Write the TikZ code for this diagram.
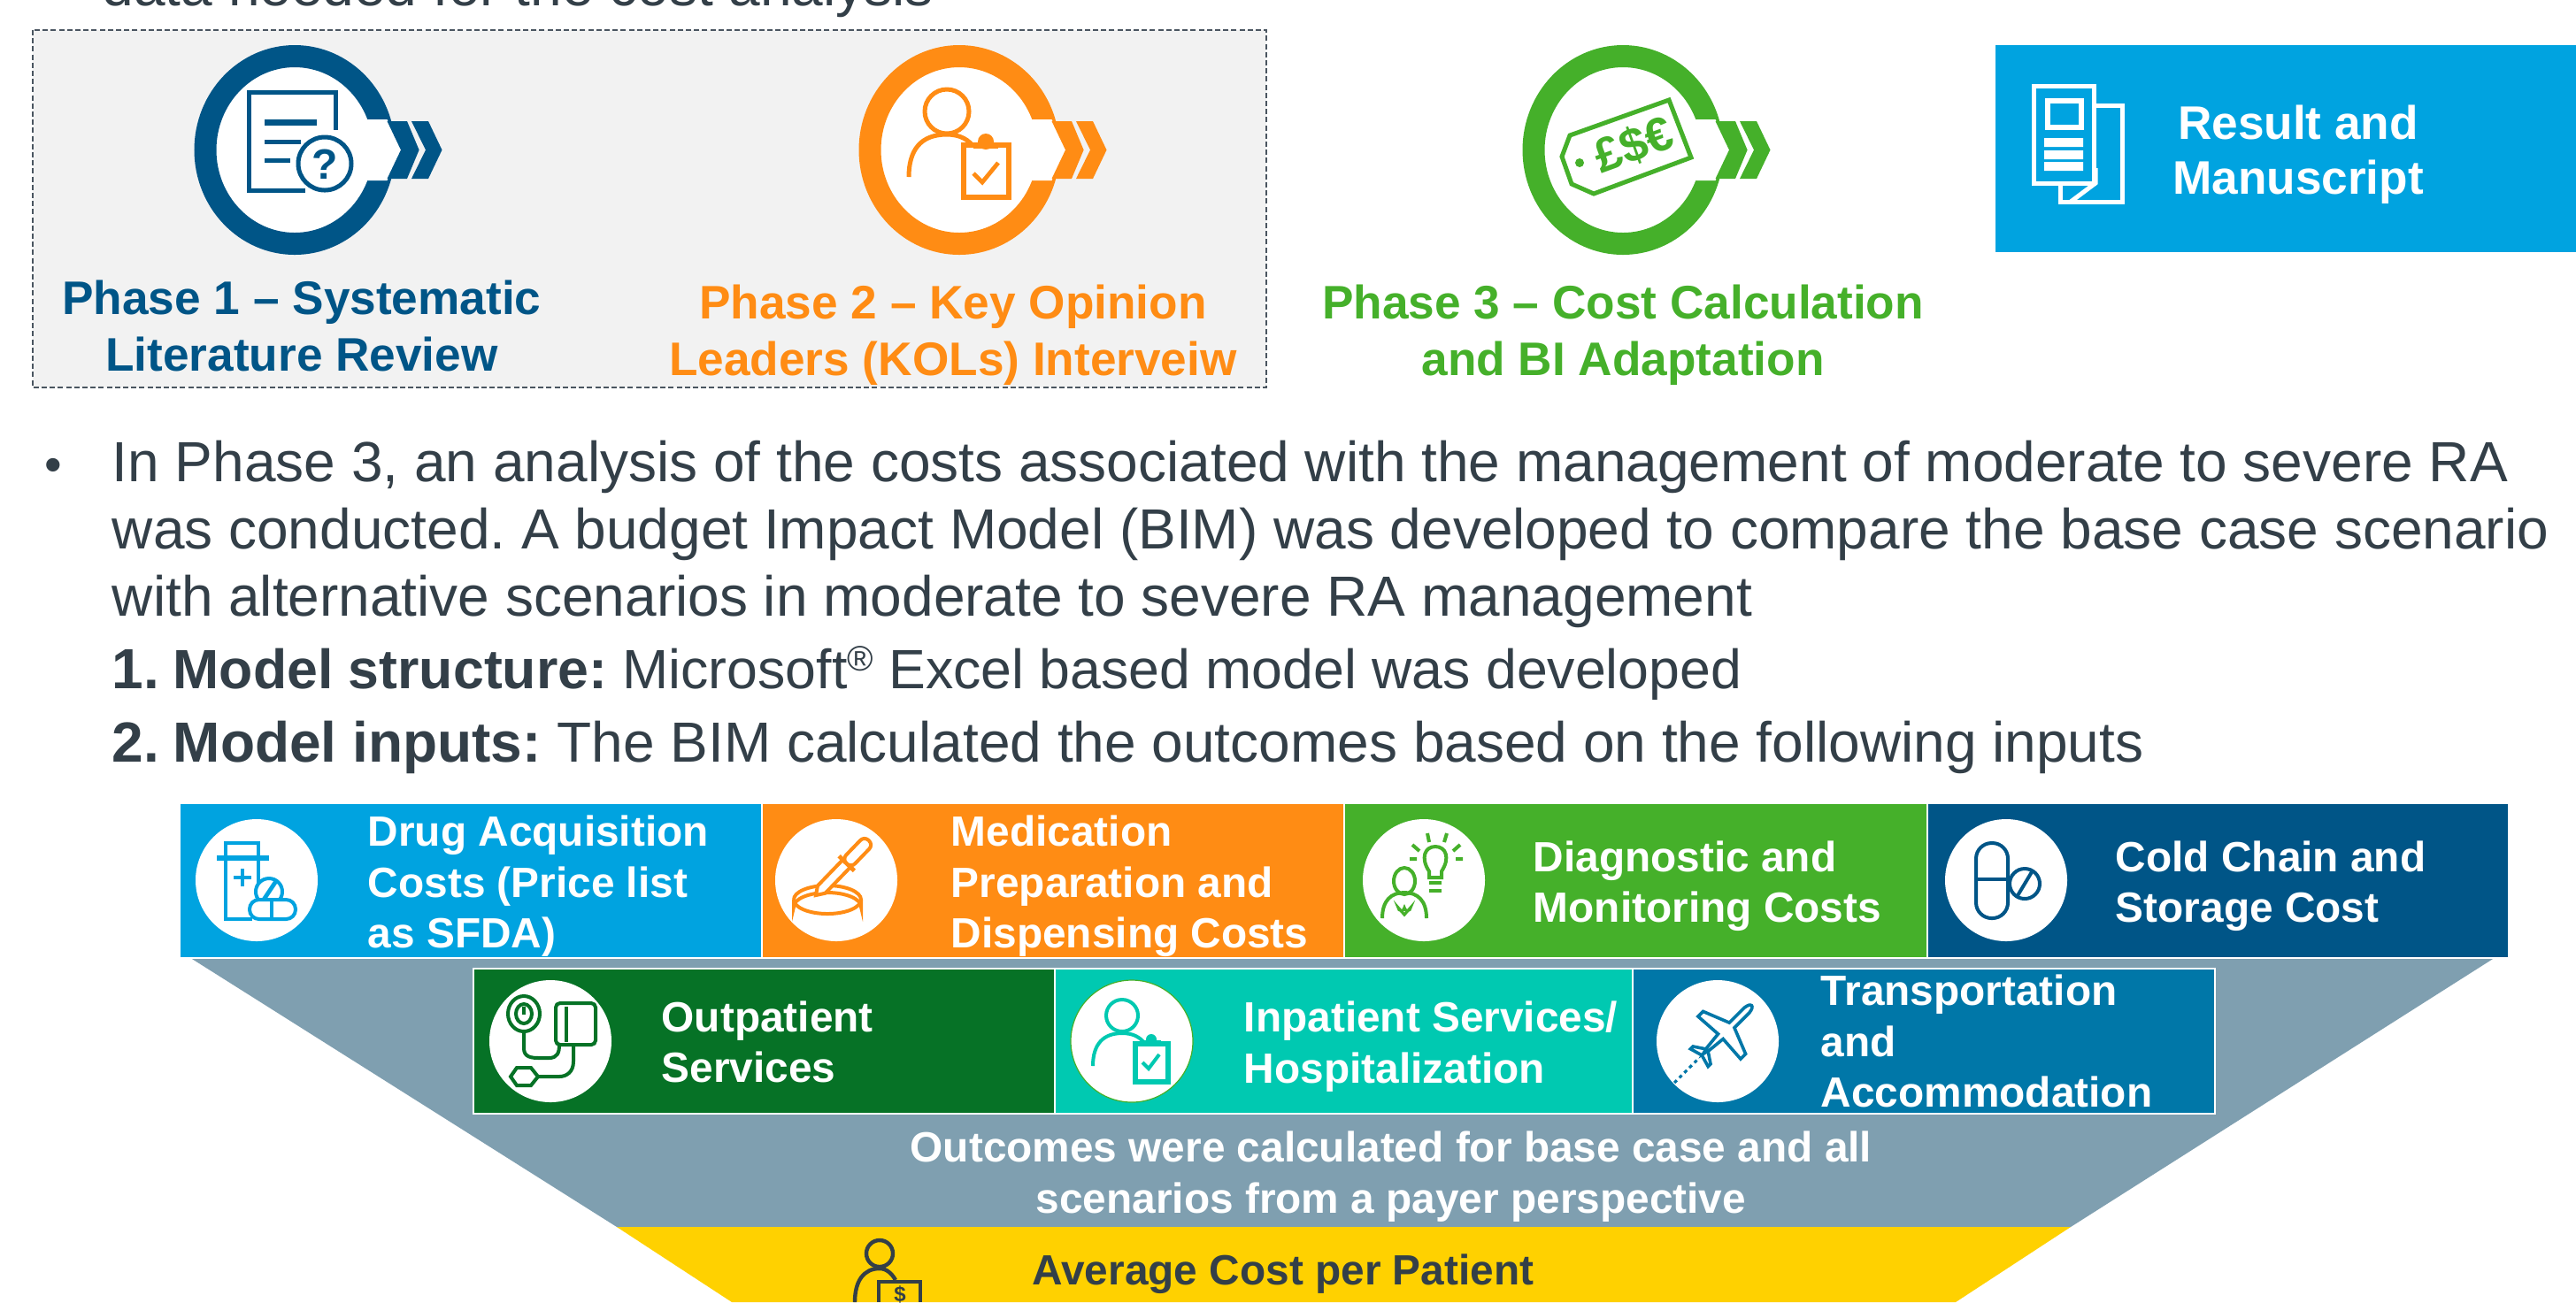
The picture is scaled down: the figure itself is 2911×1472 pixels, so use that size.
\documentclass[tikz,border=0pt]{standalone}
\usepackage{fontspec}
\setmainfont{Liberation Sans}
\frenchspacing
\definecolor{ltblue}{HTML}{00A3E0}
\definecolor{navy}{HTML}{005587}
\definecolor{orng}{HTML}{FF8C14}
\definecolor{grn}{HTML}{45B02A}
\definecolor{dkgrn}{HTML}{067226}
\definecolor{teal2}{HTML}{00C9B1}
\definecolor{midblue}{HTML}{0077A8}
\definecolor{slate}{HTML}{7F9FB0}
\definecolor{yel}{HTML}{FFD100}
\definecolor{body}{HTML}{333F48}
\definecolor{panel}{HTML}{F2F2F2}
\definecolor{dash}{HTML}{4A5560}
\tikzset{
  phasetext/.style={font=\fontsize{13.3pt}{16pt}\selectfont\bfseries,align=center,inner sep=0pt},
  costtext/.style={font=\fontsize{11.95pt}{14.35pt}\selectfont\bfseries,text=white,align=left,anchor=west,inner sep=0pt},
  centertext/.style={font=\fontsize{11.95pt}{14.35pt}\selectfont\bfseries,align=center,inner sep=0pt},
  bodyline/.style={font=\fontsize{16pt}{19pt}\selectfont,text=body,anchor=base west,inner sep=0pt},
  ico/.style={line width=1pt,line join=miter,line cap=butt},
}
\newcommand{\phasering}[2]{%
  \begin{scope}[shift={(#1,169.5)}]
    \draw[fill=white,draw=#2,line width=6.25pt] (0,0) ellipse (101 and 106);
    \fill[white] (60,-34.5)--(104.5,-34.5)--(120,0)--(104.5,34.5)--(60,34.5)--cycle;
    \fill[#2] (104.5,-32.5)--(127,-32.5)--(140.6,0)--(127,32.5)--(104.5,32.5)--(120,0)--cycle;
    \fill[#2] (132,-32.5)--(151,-32.5)--(166.5,0)--(151,32.5)--(132,32.5)--(148,0)--cycle;
  \end{scope}}
\begin{document}
\begin{tikzpicture}[x=0.25pt,y=-0.25pt]
\useasboundingbox (0,0) rectangle (2911,1472);
% top cut line
\node[bodyline] (topline) at (115,6) {data needed for the cost analysis};
% panel
\draw[fill=panel,draw=dash,line width=.4pt,dash pattern=on 1.5pt off .8pt] (37,34) rectangle (1431,438);
\phasering{333}{navy}
\phasering{1084}{orng}
\phasering{1834}{grn}
% icon 1: document + question
\begin{scope}[navy,ico]
  \draw[line width=1.25pt] (379,147)--(379,104)--(281,104)--(281,215)--(345,215);
  \fill (279,102) rectangle (379,107);
  \draw[line width=1.75pt] (299,138)--(358,138);
  \draw[line width=1.25pt] (299,160)--(340,160) (299,181)--(328,181);
  \draw[fill=white,line width=1.25pt] (367,185) circle (30);
  \node[inner sep=0pt,font=\fontsize{12pt}{12pt}\selectfont\bfseries,text=navy] (qmark) at (367,186) {?};
\end{scope}
% icon 2: person + clipboard
\begin{scope}[orng,ico,line width=1.25pt]
  \draw (1070,126) circle (25);
  \draw (1027,200) .. controls (1027,170) and (1040,152) .. (1070,152) .. controls (1085,152) and (1095,158) .. (1102,168);
  \draw[fill=white,line width=1.6pt] (1089,164) rectangle (1140,223);
  \fill (1100,162) rectangle (1128,168);
  \fill (1114,160) circle (9);
  \draw[line width=1.2pt] (1100,196)--(1110,206)--(1128,184);
\end{scope}
% icon 3: price tag
\begin{scope}[grn,ico,line width=1.25pt]
  \draw (1886,113)--(1774,153)--(1765,177)--(1776,208)--(1801,219)--(1911,178)--cycle;
  \fill (1785,184) circle (5);
  \node[inner sep=0pt,rotate=20,font=\fontsize{13.5pt}{14pt}\selectfont\bfseries,text=grn] (tagtext) at (1846,164) {£\$€};
\end{scope}
% phase labels
\node[phasetext,text=navy] (ph1) at (341,368) {Phase 1 -- Systematic\\Literature Review};
\node[phasetext,text=orng] (ph2) at (1077,379) {Phase 2 -- Key Opinion\\Leaders (KOLs) Interveiw};
\node[phasetext,text=grn] (ph3) at (1834,379) {Phase 3 -- Cost Calculation\\and BI Adaptation};
% result
\fill[ltblue] (2255,51) rectangle (2911,285);
\begin{scope}[white,ico,line width=1.25pt]
  \draw (2298,97) rectangle (2366,207);
  \draw (2368,119)--(2398,119)--(2398,228)--(2328,228)--(2328,209);
  \draw (2368,190)--(2368,207)--(2340,228);
  \draw[line width=1.5pt] (2314,114) rectangle (2352,144);
  \fill (2310,156) rectangle (2354,166) (2310,170) rectangle (2354,180) (2310,183) rectangle (2354,193);
\end{scope}
\node[phasetext,text=white,font=\fontsize{13.3pt}{15.6pt}\selectfont\bfseries] (res) at (2597,175) {Result and\\Manuscript};
% body text
\node[bodyline] (bul) at (50,544) {\fontsize{14pt}{14pt}\selectfont •};
\node[bodyline] (l1) at (126,544) {In Phase 3, an analysis of the costs associated with the management of moderate to severe RA};
\node[bodyline] (l2) at (126,620) {was conducted. A budget Impact Model (BIM) was developed to compare the base case scenario};
\node[bodyline] (l3) at (126,696) {with alternative scenarios in moderate to severe RA management};
\node[bodyline] (n4) at (126,778) {\bfseries 1.};
\node[bodyline] (l4) at (195,778) {\fontsize{15.65pt}{19pt}\selectfont\textbf{Model structure:} Microsoft\raisebox{.6ex}{\fontsize{10pt}{10pt}\selectfont ®} Excel based model was developed};
\node[bodyline] (n5) at (126,861) {\bfseries 2.};
\node[bodyline] (l5) at (195,861) {\textbf{Model inputs:} The BIM calculated the outcomes based on the following inputs};
% funnel
\fill[slate] (217,1084)--(2817,1084)--(2340,1387)--(697,1387)--cycle;
\fill[yel] (697,1387)--(2340,1387)--(2210,1472)--(827,1472)--cycle;
% row 1
\fill[ltblue] (204,909) rectangle (861,1082);
\fill[orng] (861,909) rectangle (1519,1082);
\fill[grn] (1519,909) rectangle (2178,1082);
\fill[navy] (2178,909) rectangle (2834,1082);
\draw[white,line width=.7pt] (861,909)--(861,1082) (1519,909)--(1519,1082) (2178,909)--(2178,1082);
% row 2
\fill[dkgrn] (535,1096) rectangle (1192,1258);
\fill[teal2] (1192,1096) rectangle (1845,1258);
\fill[midblue] (1845,1096) rectangle (2503,1258);
\draw[white,line width=.7pt] (535,1095) rectangle (2503,1259) (1192,1095)--(1192,1259) (1845,1095)--(1845,1259);
% white discs
\foreach \px/\py in {290/995,945/995,1609/995,2267/995,622/1177,1941/1177}{\fill[white] (\px,\py) circle (69);}
\draw[fill=white,draw=grn,line width=.3pt] (1279,1177) circle (69);
% drug icon
\begin{scope}[ltblue,ico]
  \draw (255,970)--(255,1039)--(285,1039) (292,970)--(292,1000);
  \draw (255,970)--(255,953)--(292,953)--(292,970);
  \draw[line width=1.4pt] (245,970)--(304,970);
  \draw[line width=1.2pt] (274,982)--(274,1002) (264,992)--(284,992);
  \draw[fill=white] (304,1008) circle (15);
  \draw[line width=1.2pt] (296,1020)--(312,996);
  \draw[fill=white,rounded corners=2.7pt] (282,1017) rectangle (334,1039);
  \draw (307,1017)--(307,1039);
\end{scope}
% pipette icon
\begin{scope}[orng,ico]
  \draw (897,1017) arc (180:-180:38 and 16);
  \draw (897,1017)--(897,1025) arc (180:360:38 and 16)--(973,1017);
\end{scope}
\begin{scope}[shift={(922,1012)},rotate=46,orng,ico]
  \draw[fill=white] (0,0)--(9,-6)--(50,-6)--(50,6)--(9,6)--cycle;
  \draw[line width=1.2pt] (50,-12)--(50,12);
  \draw[fill=white,rounded corners=1.6pt] (50,-7) rectangle (86,7);
\end{scope}
% diagnostic icon
\begin{scope}[grn,ico]
  \draw (1587,996) ellipse (12 and 15);
  \draw (1562,1038) .. controls (1562,1018) and (1572,1009) .. (1587,1009) .. controls (1602,1009) and (1612,1018) .. (1612,1038);
  \draw[line width=.8pt] (1587,1034)--(1580,1026) arc (180:0:3.5) arc (180:0:3.5)--cycle;
  \draw (1615,985) .. controls (1605,970) and (1610,957) .. (1622,957) .. controls (1634,957) and (1639,970) .. (1629,985)--(1629,992)--(1615,992)--cycle;
  \draw[line width=1.2pt] (1615,998)--(1629,998) (1615,1007)--(1629,1007);
  \draw (1613,942)--(1615,952) (1635,942)--(1632,952) (1596,955)--(1604,962) (1650,955)--(1642,962) (1593,971)--(1601,971) (1645,971)--(1653,971);
\end{scope}
% capsule icon
\begin{scope}[navy,ico]
  \draw[rounded corners=4.4pt] (2233,953) rectangle (2269,1038);
  \draw (2233,994)--(2269,994);
  \draw[fill=white] (2288,999) circle (17);
  \draw (2279,1014)--(2297,984);
\end{scope}
% BP icon
\begin{scope}[dkgrn,ico]
  \draw (592,1146) ellipse (18 and 20);
  \draw (592,1146) ellipse (9 and 11);
  \draw[line width=.8pt] (592,1138)--(592,1147);
  \draw[rounded corners=1.2pt] (628,1134) rectangle (673,1181);
  \draw (640,1138)--(640,1178);
  \draw (592,1166)--(592,1185) .. controls (592,1195) and (600,1196) .. (610,1196)--(620,1196) .. controls (630,1196) and (632,1190) .. (632,1181);
  \draw (648,1181)--(648,1200) .. controls (648,1212) and (640,1217) .. (632,1217)--(608,1217);
  \draw (577,1217)--(584,1207)--(600,1207)--(608,1217)--(600,1227)--(584,1227)--cycle;
\end{scope}
% inpatient icon
\begin{scope}[teal2,ico]
  \draw (1268,1148) circle (18);
  \draw (1235,1205) .. controls (1235,1180) and (1247,1168) .. (1268,1168) .. controls (1280,1168) and (1288,1172) .. (1294,1180);
  \draw[line width=1.3pt] (1283,1180) rectangle (1320,1223);
  \fill (1290,1176) rectangle (1312,1183);
  \fill (1301,1175) circle (6);
  \draw (1291,1201)--(1298,1208)--(1310,1192);
\end{scope}
% plane icon
\begin{scope}[shift={(1950,1166)},rotate=45,midblue,ico]
  \draw[line width=.9pt] (-36,0)--(-28,-2)--(-8,-4)--(-10,-34)--(-2,-34)--(10,-4)--(34,-4) .. controls (44,-3) and (44,3) .. (34,4)--(10,4)--(-2,34)--(-10,34)--(-8,4)--(-28,2)--cycle;
  \draw[line width=.9pt] (-30,-2)--(-38,-14)--(-42,-14)--(-38,0)--(-42,14)--(-38,14)--(-30,2);
  \draw[line width=.8pt,dash pattern=on 1pt off 1pt] (-46,0)--(-84,0);
\end{scope}
% cost texts
\node[costtext] (c1) at (415,1002) {Drug Acquisition\\Costs (Price list\\as SFDA)};
\node[costtext] (c2) at (1074,1002) {Medication\\Preparation and\\Dispensing Costs};
\node[costtext] (c3) at (1732,1002) {Diagnostic and\\Monitoring Costs};
\node[costtext] (c4) at (2390,1002) {Cold Chain and\\Storage Cost};
\node[costtext] (c5) at (747,1178) {Outpatient\\Services};
\node[costtext] (c6) at (1405,1183) {Inpatient Services/\\Hospitalization};
\node[costtext] (c7) at (2057,1177) {Transportation\\and\\Accommodation};
\node[centertext,text=white] (out) at (1572,1330) {Outcomes were calculated for base case and all\\scenarios from a payer perspective};
\node[centertext,text=body,anchor=center] (avg) at (1450,1440) {Average Cost per Patient};
% yellow person
\begin{scope}[body,ico,line width=1.1pt]
  \draw (994,1417) circle (15);
  \draw (966,1472) .. controls (966,1448) and (976,1434) .. (994,1434) .. controls (1002,1434) and (1008,1440) .. (1012,1447);
  \draw (993,1472)--(993,1449)--(1040,1449)--(1040,1472);
  \node[inner sep=0pt,font=\fontsize{6pt}{6pt}\selectfont\bfseries,text=body] (dollar) at (1017,1463) {\$};
\end{scope}
\end{tikzpicture}
\end{document}
